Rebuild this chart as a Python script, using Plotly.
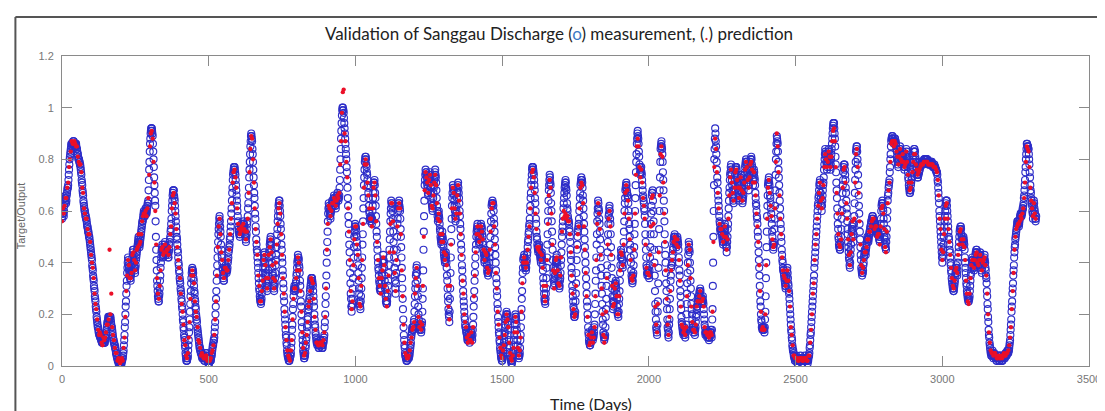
import plotly.graph_objects as go

# ---------------- data ----------------
# Measured (target) normalised discharge, in hundredths, one value per day from day 0
measured_pct = [
    57,58,59,60,59,59,58,60,62,63,65,64,66,65,63,64,66,67,68,69,69,70,72,74,76,78,80,81,82,83,
    84,85,86,86,86,85,85,86,87,87,87,86,86,85,85,85,86,86,86,85,84,84,83,82,82,81,80,80,80,79,
    79,78,78,77,76,75,74,72,71,70,68,67,66,64,63,62,61,60,60,59,58,58,57,57,56,55,54,54,53,52,
    52,51,50,50,49,48,47,46,45,44,43,42,41,39,38,37,35,34,33,31,30,29,27,26,25,23,22,21,19,18,
    17,16,15,15,14,13,13,12,12,12,11,11,11,10,11,10,9,10,9,9,10,10,9,9,9,10,9,10,11,11,
    12,13,14,15,16,17,17,18,19,19,18,18,18,19,19,19,18,17,16,15,15,14,13,12,11,10,10,9,9,8,
    8,7,7,6,5,5,4,4,3,3,2,2,2,1,2,1,1,2,2,1,1,1,2,1,2,2,3,3,4,5,
    6,8,10,12,15,17,20,23,25,28,31,33,36,38,40,42,41,39,38,37,36,35,34,34,33,35,36,37,39,40,
    42,44,45,45,43,41,40,38,37,36,38,39,41,42,43,44,45,46,47,48,49,50,48,47,46,47,48,49,50,51,
    52,53,54,55,56,56,57,58,59,60,59,58,58,59,60,61,60,59,59,60,61,62,63,63,64,68,72,76,79,83,
    86,88,90,91,92,92,92,91,90,89,86,83,80,77,73,70,67,64,62,56,50,45,41,37,33,31,29,27,26,25,
    25,27,28,30,33,35,38,40,42,44,45,46,47,45,43,42,43,44,45,46,47,48,46,44,43,44,45,46,45,44,
    44,43,42,42,44,45,47,48,49,50,52,53,55,57,60,62,64,66,67,68,68,68,66,65,64,62,60,58,56,54,
    52,50,49,47,45,44,42,40,39,37,36,34,33,32,30,29,28,26,25,23,22,20,18,17,15,14,12,11,10,8,
    7,5,4,3,2,2,2,3,3,4,6,8,10,13,15,18,21,24,27,29,32,34,36,37,38,37,37,36,34,33,
    31,29,28,26,25,23,22,20,19,18,17,15,14,13,12,11,10,9,8,7,7,6,6,5,5,5,4,4,3,3,
    3,4,4,4,3,2,2,3,3,3,4,5,5,4,3,3,2,2,2,1,1,1,2,3,3,2,2,2,3,4,
    4,5,6,7,8,8,9,10,10,11,13,15,17,20,23,26,29,33,36,39,42,45,48,51,53,55,57,58,56,54,
    52,50,47,45,43,42,40,38,37,35,34,33,33,35,36,37,38,38,39,38,37,36,37,37,38,40,41,42,44,45,
    46,47,49,50,52,54,56,59,61,64,67,69,72,74,75,76,77,77,77,76,75,74,72,70,68,66,64,62,60,58,
    56,54,53,52,51,51,50,51,52,53,54,54,55,54,53,52,54,55,56,55,55,54,53,52,51,50,49,48,50,51,
    53,55,56,58,61,63,66,69,73,76,79,82,85,87,89,90,89,88,87,84,82,79,76,73,70,67,65,62,59,57,
    54,52,49,47,45,44,42,40,38,36,34,32,30,29,27,26,25,25,24,25,26,28,30,32,34,36,38,40,41,43,
    44,42,40,38,36,35,33,32,30,29,31,33,35,37,40,42,44,45,47,48,49,50,48,47,45,43,40,38,36,35,
    33,31,30,29,31,32,34,36,39,41,43,46,48,51,53,56,58,60,62,63,64,64,62,60,58,55,53,50,47,45,
    42,40,37,35,32,30,27,25,22,20,18,16,14,12,11,9,8,6,5,4,4,3,3,2,2,2,3,3,4,4,
    5,7,9,11,14,16,19,22,24,27,29,30,31,30,30,29,30,32,33,35,36,38,40,41,43,42,42,41,39,38,
    36,33,31,28,25,23,20,17,15,12,10,8,6,5,4,3,3,4,4,5,7,8,10,11,13,15,16,18,19,21,
    22,23,25,26,27,29,30,31,32,33,34,34,34,33,32,31,29,27,25,23,20,18,16,15,13,12,11,10,9,9,
    8,9,9,9,8,7,7,8,8,8,9,10,10,9,8,8,7,7,7,8,9,9,10,11,12,15,17,20,24,27,
    31,35,40,44,48,52,56,59,61,63,62,61,60,59,58,57,59,60,61,62,63,64,63,63,62,64,65,66,65,64,
    63,62,62,61,63,64,65,66,66,67,66,65,64,65,65,66,69,72,76,80,84,88,91,94,97,99,100,100,99,99,
    98,96,94,92,90,88,86,84,82,80,77,75,72,69,65,62,58,55,51,47,44,40,36,32,28,26,23,21,23,24,
    26,30,34,38,42,46,50,52,54,55,54,54,53,51,50,48,46,44,42,39,36,33,30,28,25,24,23,22,25,27,
    30,34,38,42,47,51,56,61,65,70,73,76,79,80,81,81,80,78,77,75,74,72,70,69,67,65,62,60,59,57,
    56,57,57,58,57,56,55,57,60,62,65,67,70,71,71,72,70,67,65,62,58,55,52,50,47,45,42,40,38,37,
    35,33,32,30,30,29,29,30,32,33,35,36,38,40,41,43,41,40,38,35,33,30,28,27,25,25,24,24,25,27,
    28,31,33,36,39,42,45,49,52,56,59,61,64,63,63,62,60,57,55,52,48,45,42,38,35,33,30,28,32,36,
    40,45,50,55,57,60,62,63,63,64,62,61,60,57,53,50,46,42,38,34,30,26,22,18,15,12,10,8,7,5,
    4,4,3,3,2,2,2,3,3,4,3,3,3,4,4,5,6,7,8,9,11,12,13,14,15,15,14,14,15,17,
    18,21,24,27,30,32,35,36,38,39,36,33,30,27,23,20,18,16,14,15,15,16,15,14,13,14,16,17,21,26,
    30,37,45,52,58,64,70,72,74,76,75,75,74,73,71,70,69,67,66,68,71,73,74,74,75,73,71,69,67,65,
    63,62,61,60,62,65,67,69,70,72,73,75,76,74,73,71,68,65,62,60,58,56,57,59,60,58,57,55,53,52,
    50,49,48,47,49,50,52,50,49,47,46,44,43,42,41,40,41,43,44,42,40,38,35,33,30,27,25,22,20,19,
    17,21,26,30,36,42,48,53,57,62,65,67,70,69,69,68,66,64,62,60,58,56,57,59,60,62,65,67,68,70,
    71,69,67,65,63,60,58,55,53,50,47,45,42,39,37,34,32,29,27,25,23,21,19,18,16,15,15,14,13,13,
    12,11,10,10,11,12,13,11,10,9,10,10,11,12,13,14,12,11,10,12,14,16,19,23,26,29,33,36,39,42,
    45,47,50,52,53,54,55,53,52,50,49,48,47,48,50,51,52,54,55,54,54,53,51,50,48,47,45,44,43,41,
    40,42,43,45,44,43,42,40,39,37,36,36,35,36,37,38,40,42,44,47,50,53,56,59,62,63,63,64,63,63,
    62,60,57,55,52,49,46,43,40,37,34,32,29,27,24,22,19,17,15,13,12,10,9,7,6,5,4,3,3,2,
    2,3,4,5,6,8,9,10,12,13,15,16,18,19,20,21,20,20,19,17,16,14,12,10,8,7,5,4,3,3,
    2,2,1,1,2,2,3,5,6,8,10,12,14,16,18,20,19,19,18,16,14,12,10,8,6,5,4,3,4,4,
    5,7,10,12,15,19,22,26,29,33,36,38,41,42,42,43,42,40,39,38,38,37,38,40,41,43,44,46,48,49,
    51,52,54,55,57,60,62,65,67,70,72,74,76,77,77,77,76,75,74,72,70,68,65,63,60,57,55,52,50,49,
    47,46,45,44,45,46,47,45,44,43,42,41,40,42,43,44,42,41,39,37,34,32,30,28,26,25,25,24,26,28,
    30,34,38,42,47,51,56,60,64,68,70,72,74,73,71,70,67,63,60,56,52,48,45,41,38,36,33,31,32,34,
    35,37,38,40,41,42,43,41,40,38,36,35,33,32,31,30,31,33,34,36,39,41,44,47,50,52,54,56,58,61,
    63,65,67,69,70,71,72,71,69,68,66,63,61,60,58,57,56,56,55,53,52,50,48,45,43,41,38,36,34,31,
    29,27,25,23,22,20,19,19,20,21,25,28,32,36,41,45,47,50,52,53,54,55,57,60,62,65,67,70,71,72,
    73,72,72,71,69,66,64,61,58,55,52,49,46,43,40,37,34,31,28,25,23,20,18,15,13,12,10,9,9,8,
    8,9,9,10,12,13,14,12,11,10,11,11,12,13,15,16,20,24,28,33,37,42,47,51,56,59,61,64,63,61,
    60,57,55,52,49,45,42,38,35,31,28,24,21,18,16,13,12,11,10,11,11,12,15,19,22,26,31,35,39,44,
    48,51,55,58,59,61,62,60,57,55,51,46,42,38,34,30,27,25,22,23,24,25,27,29,31,32,32,33,31,30,
    28,26,23,21,20,20,19,21,24,26,29,33,36,39,42,45,44,43,42,41,39,38,41,45,48,52,56,60,63,65,
    68,69,70,71,70,68,67,66,66,65,63,60,58,55,53,50,47,45,42,40,37,35,34,33,32,33,35,36,39,43,
    46,51,55,60,65,70,75,79,82,86,88,90,91,89,88,86,83,81,78,77,75,74,75,76,77,75,74,72,70,68,
    66,65,64,63,61,60,58,55,51,48,45,42,39,38,36,35,36,36,37,36,35,34,37,39,42,46,51,55,59,62,
    66,67,67,68,64,60,56,51,45,40,35,29,24,21,18,15,14,13,12,16,21,25,32,38,45,53,60,68,73,79,
    84,85,86,87,85,84,82,79,75,72,68,64,60,56,51,47,43,40,36,32,29,25,22,18,15,14,12,11,13,16,
    18,22,26,30,33,35,38,39,39,40,42,43,45,46,48,49,50,50,51,50,49,48,47,47,46,47,49,50,49,48,
    47,45,42,40,37,35,32,29,27,24,22,19,17,16,15,14,13,13,12,13,14,15,14,12,11,13,14,16,20,24,
    28,32,36,40,43,45,48,47,45,44,40,37,33,30,27,24,22,20,18,16,15,13,14,14,15,14,13,12,14,15,
    17,19,20,22,23,23,24,25,25,26,27,27,28,29,29,30,29,27,26,25,25,24,25,26,27,25,24,22,20,18,
    16,15,13,12,13,13,14,13,12,11,12,12,13,12,11,10,11,11,12,13,13,14,13,12,11,14,18,22,31,40,
    50,60,70,80,84,88,92,90,87,85,82,79,76,73,71,68,66,64,62,60,58,56,55,53,52,53,53,54,52,51,
    50,49,48,47,48,50,51,52,54,55,53,51,49,47,46,44,46,48,50,53,55,58,61,64,67,69,72,74,75,77,
    78,76,74,72,70,68,66,65,64,63,65,68,70,72,74,76,77,77,77,76,74,73,71,70,68,67,65,64,66,68,
    70,71,73,74,72,71,69,67,65,63,64,65,66,68,70,72,74,75,77,78,79,80,79,79,78,76,75,73,71,70,
    68,70,72,74,76,77,79,80,80,81,80,78,77,75,72,70,72,74,76,75,73,72,70,67,65,63,62,60,58,57,
    55,52,50,47,44,41,38,35,31,28,25,23,20,18,17,15,15,14,14,15,15,15,14,14,13,15,18,21,27,34,
    40,46,52,58,62,66,70,71,72,73,71,70,68,66,65,63,61,59,57,55,52,50,48,47,45,46,47,48,53,57,
    62,68,74,80,83,86,89,88,87,86,83,79,76,73,70,67,64,61,58,55,53,50,48,45,43,41,40,38,37,37,
    36,35,34,33,32,31,30,31,33,34,35,37,38,36,34,32,31,29,28,26,24,22,20,18,16,14,13,11,10,8,
    7,6,6,5,4,4,3,3,2,2,3,3,4,3,3,2,2,1,1,2,2,3,3,2,2,3,3,4,3,3,
    2,2,1,1,2,2,3,2,2,2,3,3,4,3,3,2,2,3,3,2,2,1,2,2,3,4,4,5,7,8,
    10,12,13,15,17,19,21,23,25,27,29,31,33,35,38,40,42,44,46,48,50,52,54,56,58,60,62,63,65,66,
    68,70,71,72,70,67,65,63,62,60,62,64,66,68,70,71,73,76,78,80,82,84,83,82,81,79,78,76,77,79,
    80,81,83,84,83,81,80,79,77,76,78,80,82,84,86,88,90,92,93,94,94,94,92,90,88,85,81,78,75,71,
    68,65,61,58,55,53,50,49,47,46,46,45,45,47,48,50,53,57,60,63,67,70,72,75,77,78,78,78,76,74,
    72,69,67,64,61,59,56,53,51,48,46,44,42,41,39,38,40,43,45,47,50,52,53,54,55,53,50,48,51,55,
    58,63,67,72,76,79,83,84,85,85,83,80,78,74,70,66,62,59,55,52,49,46,43,41,38,37,36,35,36,36,
    37,39,40,42,43,44,45,44,44,43,45,46,47,48,49,50,49,49,48,49,50,51,52,52,53,54,54,55,56,56,
    57,57,58,58,57,57,56,55,55,54,54,55,55,54,54,53,52,52,51,51,52,52,51,51,50,49,49,48,50,53,
    55,57,60,62,63,63,64,63,61,60,57,55,52,50,49,47,46,46,45,48,50,53,57,60,64,66,67,69,70,71,
    72,75,77,80,82,85,87,88,88,89,89,88,88,87,87,86,87,87,88,88,87,87,86,85,84,83,81,80,79,78,
    77,79,80,82,83,84,85,84,82,81,80,79,78,80,81,83,82,81,80,79,77,76,77,78,79,81,82,84,83,81,
    80,78,77,75,73,72,70,69,68,67,67,68,68,70,71,72,73,75,76,77,79,80,81,83,84,84,83,83,81,80,
    79,77,76,75,74,74,73,73,74,74,75,75,76,76,77,77,78,78,78,79,79,79,78,78,78,79,79,79,80,80,
    80,80,79,79,79,80,80,80,80,80,79,79,79,78,78,78,79,79,79,78,78,78,79,79,79,78,78,78,77,77,
    77,77,78,78,77,77,77,76,76,76,75,75,75,74,72,71,69,67,65,63,60,58,56,54,52,50,48,46,44,42,
    40,42,43,45,47,50,52,54,56,58,60,62,63,64,64,64,62,60,58,56,54,52,50,49,47,45,44,42,40,39,
    37,36,34,33,32,31,30,30,29,29,30,31,32,33,35,36,37,38,39,38,36,35,37,40,42,44,46,48,50,52,
    53,53,54,54,53,51,50,49,47,46,47,49,50,49,48,47,45,42,40,38,36,34,32,31,29,28,27,26,26,25,
    25,26,26,27,29,31,33,35,36,38,39,41,42,41,41,40,39,38,37,38,39,40,41,43,44,44,45,45,44,42,
    41,40,39,38,39,41,42,43,43,44,43,41,40,39,37,36,38,39,41,41,40,40,41,42,43,41,40,38,37,35,
    34,32,29,27,24,22,19,17,14,12,11,9,8,7,6,5,5,4,4,5,5,6,5,4,3,4,4,5,4,4,
    4,4,3,3,3,2,2,3,3,4,4,3,3,3,2,2,3,3,4,4,3,3,3,2,2,2,3,3,4,4,
    4,4,3,3,4,4,5,5,4,4,5,5,6,6,5,5,6,6,7,8,9,10,12,14,16,18,21,23,25,28,
    30,32,35,37,39,42,44,46,47,49,50,51,52,53,54,55,56,56,56,55,55,54,55,56,57,58,58,59,59,58,
    58,59,59,60,61,61,62,63,65,66,68,70,72,75,77,80,82,84,86,86,85,85,85,84,84,82,80,78,75,73,
    70,68,67,65,64,63,62,60,59,57,59,62,64,63,61,60,59,57,56,57,58,
]

# Network output (prediction), in hundredths, one value every 3 days from day 0
predicted_pct = [
    56,61,59,62,65,65,69,71,77,80, 83,87,86,86,87,86,85,85,81,79, 78,78,75,69,67,61,59,57,57,53,
    51,51,48,43,40,38,34,28,24,22, 18,14,12,13,12,9,8,11,10,11, 13,16,16,18,45,20,28,15,12,10,
    7,5,5,2,3,2,1,2,3,2, 7,11,19,29,35,41,39,34,34,36, 43,44,41,37,40,45,46,51,47,48,
    51,56,58,59,59,60,58,61,65,74, 85,90,91,88,79,71,60,47,34,28, 26,31,37,45,46,43,44,47,44,45,
    45,43,46,51,54,61,66,67,63,59, 53,46,41,38,34,28,24,21,16,10, 8,4,3,5,11,17,26,35,37,35,
    32,25,21,19,15,10,9,7,4,5, 4,3,3,4,4,2,3,2,2,3, 5,6,8,12,18,25,35,46,54,57,
    51,44,41,36,34,38,38,37,37,41, 45,51,57,63,71,75,76,73,69,61, 55,53,51,52,54,53,55,53,52,49,
    52,57,67,75,84,89,88,80,71,61, 53,48,43,35,31,25,25,29,33,41, 43,39,34,30,34,43,46,49,44,39,
    34,30,33,40,47,55,61,63,59,51, 43,34,28,21,15,10,6,4,3,2, 6,10,18,26,30,30,34,37,42,40,
    37,29,21,13,7,4,5,9,12,17, 23,25,29,34,33,32,26,19,14,9, 9,8,8,9,9,9,8,10,13,19,
    30,45,55,62,61,58,60,63,63,65, 64,62,64,66,65,67,78,87,98,106, 107,90,87,79,73,61,52,41,29,22,
    25,39,49,54,54,47,43,34,24,23, 31,41,55,69,78,80,78,71,66,61, 57,57,54,61,69,71,66,56,48,41,
    34,31,28,34,37,42,39,31,26,23, 29,35,44,55,63,63,56,44,36,29, 41,54,61,63,61,51,37,27,16,9,
    5,4,3,3,4,6,9,11,14,15, 17,28,34,38,31,19,15,17,14,16, 31,50,68,75,73,71,67,72,74,70,
    62,61,66,71,74,70,63,57,59,56, 51,48,51,48,44,41,43,39,31,23, 18,31,47,61,69,67,61,57,59,66,
    70,64,59,51,43,33,28,20,17,15, 11,9,12,10,10,13,9,15,27,35, 44,51,54,51,48,50,54,52,49,45,
    41,44,43,38,36,37,45,52,61,63, 63,54,47,36,30,21,16,11,7,4, 3,6,8,12,17,20,18,15,9,5,
    3,2,4,7,13,19,17,13,7,4, 6,11,21,32,40,42,40,38,40,45, 50,54,61,69,75,76,73,67,59,53,
    46,45,46,44,41,43,38,31,27,25, 31,41,55,66,72,69,59,47,37,30, 36,41,42,37,32,31,35,42,52,57,
    60,58,59,57,58,56,56,51,44,35, 28,22,19,20,31,46,51,54,61,69, 71,70,63,54,45,36,27,19,12,8,
    9,11,13,9,11,15,27,41,55,63, 59,53,43,30,20,12,9,11,21,34, 47,57,60,54,43,31,23,24,30,32,
    27,20,20,27,37,44,43,39,47,59, 67,70,68,64,57,49,41,34,33,35, 45,59,74,85,88,85,77,73,76,71,
    65,62,57,47,38,36,36,35,43,54, 65,66,55,39,23,16,13,24,44,66, 82,85,81,71,59,48,37,26,16,12,
    19,29,37,41,44,48,50,49,47,49, 46,41,33,23,16,15,13,14,12,15, 27,39,47,45,34,23,17,14,14,13,
    16,23,25,25,27,29,25,25,26,23, 15,13,13,12,12,11,13,13,12,21, 48,77,88,84,75,67,61,55,53,53,
    51,48,50,54,50,45,49,57,66,73, 76,71,67,64,69,75,76,72,69,65, 69,73,68,64,67,71,76,79,77,72,
    69,73,78,79,76,71,75,71,66,59, 54,48,39,29,21,14,15,14,14,20, 39,57,69,72,67,62,58,49,46,47,
    61,79,90,85,75,66,57,51,42,37, 35,34,31,33,37,33,29,23,15,12, 8,4,4,3,3,3,2,2,3,3,
    3,2,2,3,3,3,2,2,4,4, 9,14,20,28,32,41,47,51,57,62, 67,71,64,61,65,70,77,82,80,77,
    79,83,81,77,81,87,91,92,87,77, 67,59,51,47,46,49,59,69,76,77, 71,63,57,49,43,39,44,51,56,49,
    57,71,82,84,77,67,56,47,39,36, 38,41,44,44,46,49,49,52,52,54, 56,57,57,53,54,54,50,51,51,47,
    54,61,62,59,53,46,44,52,63,68, 71,79,86,87,87,85,87,86,83,81, 78,81,84,80,79,82,79,77,78,83,
    79,74,71,68,69,71,75,79,82,82, 78,76,74,75,76,77,78,78,78,79, 79,79,79,79,78,78,78,78,78,78,
    77,77,77,76,75,72,66,57,53,45, 41,44,51,57,62,63,57,53,48,43, 38,34,31,30,33,37,38,36,43,47,
    52,53,49,47,49,46,41,33,28,25, 24,28,34,39,41,41,38,41,43,44, 40,39,41,43,41,37,40,41,42,39,
    35,28,20,13,9,6,5,5,4,5, 5,4,3,3,4,3,3,4,3,4, 5,4,4,5,5,6,8,11,15,22,
    29,36,45,50,53,54,55,55,56,58, 57,59,61,65,71,79,85,84,83,77, 69,64,61,58,63,59,57,
]

measured = [v / 100 for v in measured_pct]
predicted = [v / 100 for v in predicted_pct]
measured_days = list(range(len(measured)))
predicted_days = list(range(0, 3 * len(predicted), 3))

x_ticks = [0, 500, 1000, 1500, 2000, 2500, 3000, 3500]
y_ticks = [0, 0.2, 0.4, 0.6, 0.8, 1, 1.2]
y_tick_text = ["0", "0.2", "0.4", "0.6", "0.8", "1", "1.2"]

# ---------------- figure ----------------
W, H = 1105, 411
L, R, T, B = 54, 1090, 48, 358          # plot-area pixel box
pw, ph = R - L, B - T


def px(xp):
    return (xp - L) / pw


def py(yp):
    return (B - yp) / ph


fig = go.Figure()
fig.add_trace(go.Scatter(
    x=measured_days, y=measured, mode="markers", name="measurement",
    marker=dict(symbol="circle-open", size=7, color="rgb(45,45,200)",
                line=dict(width=1.15, color="rgb(45,45,200)")),
    hoverinfo="skip"))
fig.add_trace(go.Scatter(
    x=predicted_days, y=predicted, mode="markers", name="prediction",
    marker=dict(symbol="circle", size=4.3, color="rgb(235,15,40)", line=dict(width=0)),
    hoverinfo="skip"))

axis_common = dict(showgrid=False, zeroline=False, showline=True, linecolor="#8a8a8a",
                   linewidth=1, mirror="ticks", ticks="inside", ticklen=10,
                   tickcolor="#8a8a8a", tickwidth=1,
                   tickfont=dict(family="Liberation Sans, Arial, sans-serif", size=11,
                                 color="#777777"))

fig.update_layout(
    width=W, height=H,
    margin=dict(l=L, r=W - R, t=T, b=H - B, pad=0),
    paper_bgcolor="white", plot_bgcolor="white",
    showlegend=False,
    xaxis=dict(range=[0, 3500], tickmode="array", tickvals=x_ticks,
               ticktext=[str(v) for v in x_ticks], ticklabelstandoff=3, **axis_common),
    yaxis=dict(range=[0, 1.2], tickmode="array", tickvals=y_ticks,
               ticktext=y_tick_text, ticklabelstandoff=5, **axis_common),
    title=dict(
        text="Validation of Sanggau Discharge (<span style='color:#3b78c4'>o</span>) "
             "measurement, (<span style='color:#d02030'>.</span>) prediction",
        x=551 / W, xref="container", xanchor="center",
        y=1 - 26 / H, yref="container", yanchor="middle",
        font=dict(family="Lato, 'Open Sans', sans-serif", size=17, color="#222222")),
    annotations=[
        dict(text="Time (Days)", xref="paper", yref="paper", x=px(588), y=py(395),
             xanchor="center", yanchor="middle", showarrow=False,
             font=dict(family="Lato, 'Open Sans', sans-serif", size=16, color="#222222")),
        dict(text="Target/Output", xref="paper", yref="paper", x=px(13), y=py(208),
             xanchor="center", yanchor="middle", textangle=-90, showarrow=False,
             font=dict(family="Liberation Sans, Arial, sans-serif", size=11, color="#666666")),
    ],
    shapes=[
        dict(type="line", xref="paper", yref="paper", x0=px(7), x1=px(1110), y0=py(9), y1=py(9),
             line=dict(color="#555555", width=2)),
        dict(type="line", xref="paper", yref="paper", x0=px(7), x1=px(7), y0=py(9), y1=py(420),
             line=dict(color="#555555", width=2)),
    ],
)

fig.write_html("out.html")
